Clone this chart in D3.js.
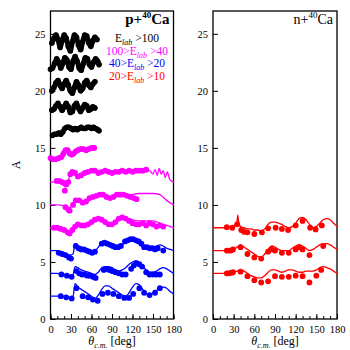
<!DOCTYPE html>
<html>
<head>
<meta charset="utf-8">
<script src="https://cdn.jsdelivr.net/npm/d3@7"></script>
<style>
  body { margin: 0; background: #fff; }
  text { font-family: "Liberation Serif", "DejaVu Serif", serif; }
</style>
</head>
<body>
<div id="chart"></div>
<script>
// axis ticks
var xTicks = [0, 30, 60, 90, 120, 150, 180];
var yTicks = [0, 5, 10, 15, 20, 25];

// black bands, E_lab > 100 (p+40Ca)
var black16 = [[3,16.1],[6,16.2],[9,16.2],[12,16.3],[15,16.2],[18,16.4],[21,16.7],[24,16.8],[27,16.8],[30,16.7],[33,16.6],[36,16.7],[39,16.6],[42,16.7],[45,16.8],[48,16.7],[51,16.7],[54,16.8],[57,16.8],[60,16.7],[63,16.8],[66,16.7],[69,16.6],[71,16.5]];
var black18 = [[2,18.3],[5,18.4],[8,18.7],[11,18.9],[14,18.6],[17,18.3],[20,18.6],[23,18.9],[26,18.6],[29,18.1],[32,18.2],[35,18.7],[38,18.9],[41,18.5],[44,18.2],[47,18.5],[50,18.8],[53,18.7],[56,18.3],[59,18.4],[62,18.6],[65,18.5]];
var black20 = [[2,20.0],[5,20.3],[8,20.7],[11,20.9],[14,20.5],[17,20.2],[20,20.6],[23,20.9],[26,20.5],[29,20.0],[32,19.8],[35,20.3],[38,20.8],[41,20.5],[44,20.0],[47,20.2],[50,20.7],[53,20.9],[56,20.5],[59,20.3],[62,20.6],[65,20.8]];
var black22 = [[0,21.9],[3,22.0],[6,22.4],[9,22.8],[12,22.5],[15,22.0],[18,22.4],[21,22.9],[24,22.7],[27,22.1],[30,21.9],[33,22.6],[36,23.0],[39,22.6],[42,22.0],[45,21.8],[48,22.4],[51,22.9],[54,22.8],[57,22.3],[60,22.1],[63,22.5],[66,22.8],[69,22.6],[71,22.3]];
var black24 = [[2,24.2],[5,24.6],[8,24.9],[11,24.5],[14,23.8],[17,24.4],[20,24.9],[23,24.6],[26,23.9],[29,23.5],[32,24.3],[35,24.9],[38,24.7],[41,24.0],[44,23.6],[47,24.3],[50,24.9],[53,24.8],[56,24.2],[59,23.9],[62,24.4],[65,24.7],[68,24.5]];

// magenta, 100 > E_lab > 40
var mag14 = [[0,14.1],[4,14.0],[8,14.0],[12,14.1],[16,14.2],[19,14.5],[22,14.8],[25,14.8],[28,14.5],[31,14.4],[34,14.5],[37,14.7],[40,14.8],[44,14.9],[48,14.9],[52,14.8],[56,14.9],[60,15.0],[64,15.0]];
var mag12Curve = [[0,12.0],[10,12.0],[20,11.9],[25,12.0],[30,12.8],[35,12.9],[40,12.5],[45,12.6],[50,12.8],[55,12.7],[60,13.0],[65,13.0],[70,12.8],[75,13.0],[80,13.1],[85,13.0],[90,12.8],[95,12.9],[100,13.0],[105,13.0],[110,12.9],[115,13.1],[120,13.0],[125,12.9],[130,13.1],[135,13.1],[140,12.9],[145,13.0],[150,12.7],[153,13.1],[156,12.6],[159,13.2],[162,12.7],[165,13.0],[168,12.4],[171,12.9],[174,12.3],[177,12.1],[180,12.0]];
var mag12Pts = [[9,12.1],[13,12.1],[17,12.0],[20,11.9],[23,11.8],[26,12.0],[29,12.7],[32,12.9],[36,12.8],[40,12.5],[45,12.6],[50,12.8],[55,12.9],[60,13.0],[65,13.0],[70,12.8],[75,12.9],[80,13.0],[85,12.9],[90,12.8],[95,12.9],[100,12.9],[105,13.0],[110,12.9],[115,13.0],[120,12.9],[125,13.0],[130,13.0],[135,13.0],[140,13.1]];
var mag10Curve = [[0,10.0],[10,10.0],[20,9.9],[25,9.6],[30,9.8],[35,10.4],[40,10.5],[45,10.3],[50,10.4],[55,10.3],[60,10.6],[65,10.7],[70,10.8],[75,10.9],[80,10.8],[85,10.6],[90,10.6],[95,10.8],[100,10.9],[105,10.9],[110,10.9],[115,10.8],[120,10.9],[130,11.0],[140,11.0],[150,11.0],[160,10.9],[170,10.4],[180,10.0]];
var mag10Pts = [[21,11.25],[22,9.8],[26,9.6],[28,9.5],[33,10.0],[37,10.4],[42,10.4],[47,10.2],[52,10.3],[57,10.6],[62,10.7],[67,10.8],[72,10.9],[77,10.9],[82,10.7],[87,10.6],[92,10.7],[97,10.9],[102,10.9],[107,10.9],[112,10.8],[117,10.7],[122,10.6],[126,10.5]];
var mag8Curve = [[0,8.0],[10,8.0],[20,7.8],[25,7.6],[30,7.7],[35,8.2],[40,8.4],[45,8.3],[50,8.2],[55,8.3],[60,8.5],[65,8.7],[70,8.9],[75,8.8],[80,8.6],[85,8.4],[90,8.4],[95,8.6],[100,8.9],[105,9.0],[110,8.9],[115,8.8],[120,8.7],[130,8.6],[140,8.6],[150,8.6],[160,8.4],[170,8.2],[180,8.0]];
var mag8Pts = [[5,8.0],[10,8.0],[15,7.9],[20,7.8],[25,7.6],[28,7.5],[32,7.8],[36,8.1],[40,8.3],[45,8.2],[50,8.2],[55,8.3],[60,8.5],[65,8.7],[70,8.8],[75,8.7],[80,8.5],[85,8.3],[90,8.3],[95,8.5],[100,8.8],[105,8.9],[110,8.8],[115,8.6],[120,8.4],[125,8.3],[130,8.3],[135,8.4],[140,8.2],[145,8.4],[150,8.3],[155,8.1],[160,8.2],[165,8.1]];

// blue, 40 > E_lab > 20
var blue6Curve = [[0,6.0],[10,6.0],[20,5.8],[28,5.6],[33,5.7],[36,6.6],[40,6.4],[45,6.3],[50,6.2],[55,6.1],[60,6.0],[65,6.0],[70,6.3],[75,6.7],[80,6.8],[85,6.7],[90,6.5],[95,6.3],[100,6.2],[105,6.5],[110,6.8],[115,7.0],[120,7.1],[125,7.0],[130,6.8],[135,6.5],[140,6.4],[145,6.3],[150,6.3],[155,6.4],[160,6.5],[165,6.4],[170,6.2],[175,6.1],[180,6.0]];
var blue6Pts = [[12,5.8],[17,5.7],[22,5.6],[27,5.4],[30,5.3],[37,6.4],[41,6.2],[45,6.1],[49,6.1],[53,6.0],[57,5.9],[61,5.8],[65,5.9],[75,6.6],[79,6.7],[83,6.6],[87,6.5],[91,6.4],[95,6.3],[99,6.3],[103,6.4],[109,6.8],[113,6.9],[117,7.0],[121,7.0],[125,6.9],[129,6.8],[133,6.6],[137,6.3],[141,6.3],[145,6.2],[149,6.2],[153,6.1],[157,6.2],[165,6.0]];
var blue4Curve = [[0,4.0],[10,4.0],[20,3.9],[28,3.8],[33,3.9],[36,4.6],[40,4.5],[45,4.3],[50,4.2],[55,4.1],[60,4.0],[65,3.9],[70,4.1],[75,4.5],[80,4.6],[85,4.6],[90,4.5],[95,4.3],[100,4.2],[105,4.3],[110,4.5],[115,4.8],[120,5.0],[125,5.1],[130,4.9],[135,4.6],[140,4.3],[145,4.1],[150,4.1],[155,4.2],[160,4.4],[165,4.5],[170,4.4],[175,4.2],[180,4.0]];
var blue4Pts = [[16,3.9],[24,3.8],[31,3.7],[38,4.2],[42,4.0],[46,3.9],[50,3.9],[54,3.8],[58,3.8],[62,3.7],[66,3.6],[78,4.3],[82,4.4],[86,4.3],[90,4.2],[95,4.1],[100,4.0],[105,3.9],[110,3.9],[118,4.4],[122,4.7],[126,4.9],[130,4.8],[134,4.6],[140,4.1],[145,3.9],[150,3.9],[155,3.9],[160,3.9]];
var blue2Curve = [[0,2.0],[10,2.0],[20,2.0],[28,1.9],[33,2.0],[36,3.1],[40,2.8],[45,2.6],[50,2.4],[55,2.2],[60,2.0],[65,1.8],[70,2.1],[75,2.6],[80,2.9],[85,2.9],[90,2.7],[95,2.5],[100,2.3],[105,2.1],[110,2.0],[115,2.3],[120,2.8],[125,3.1],[130,3.0],[135,2.6],[140,2.2],[145,2.1],[150,2.3],[155,2.5],[160,2.7],[165,2.8],[170,2.7],[175,2.4],[180,2.2]];
var blue2Pts = [[15,2.0],[23,1.9],[31,1.8],[38,2.7],[47,2.0],[55,1.9],[62,1.7],[69,1.6],[76,2.2],[84,2.3],[92,2.2],[100,2.0],[108,1.85],[115,1.85],[121,2.2],[130,2.7],[137,2.3],[145,2.1],[153,2.3],[160,2.7]];

// red, 20 > E_lab > 10 (n+40Ca)
var red8Curve = [[0,8.0],[10,8.0],[20,8.0],[28,8.1],[32,8.2],[35,8.6],[36,9.1],[37,8.6],[40,8.1],[45,8.0],[50,7.9],[55,7.9],[60,7.8],[65,7.8],[70,7.7],[75,7.9],[80,8.3],[85,8.5],[90,8.5],[95,8.4],[100,8.3],[105,8.1],[110,8.0],[115,8.1],[120,8.4],[125,8.8],[130,8.9],[135,8.7],[140,8.3],[145,8.0],[150,8.1],[155,8.4],[160,8.7],[165,8.8],[170,8.7],[175,8.4],[180,8.1]];
var red8Pts = [[20,8.05],[28,8.0],[35,8.3],[41,7.8],[45,7.65],[50,7.6],[60,7.45],[71,7.6],[80,7.95],[91,8.0],[100,7.9],[109,7.8],[120,8.2],[130,8.6],[141,8.0],[149,7.85],[158,8.2]];
var red6Curve = [[0,6.0],[10,6.0],[20,6.0],[30,6.1],[35,6.3],[40,6.5],[45,6.3],[50,6.1],[55,5.9],[60,5.7],[65,5.5],[70,5.4],[75,5.7],[80,6.1],[85,6.4],[90,6.3],[95,6.1],[100,6.0],[105,6.0],[110,6.0],[115,6.2],[120,6.4],[125,6.5],[130,6.4],[135,6.2],[140,6.0],[145,6.1],[150,6.3],[155,6.5],[160,6.6],[165,6.6],[170,6.5],[175,6.3],[180,6.1]];
var red6Pts = [[20,6.0],[23,6.0],[26,6.0],[29,6.1],[40,6.3],[50,5.7],[60,5.4],[70,5.3],[80,5.9],[85,6.1],[90,6.0],[100,5.8],[110,5.8],[120,6.1],[125,6.3],[130,6.1],[140,5.6],[160,6.4]];
var red4Curve = [[0,4.0],[10,4.0],[20,4.0],[30,4.1],[35,4.2],[40,4.3],[45,4.2],[50,4.0],[55,3.8],[60,3.7],[65,3.6],[70,3.6],[75,3.8],[80,4.1],[85,4.3],[90,4.3],[95,4.2],[100,4.1],[105,4.2],[110,4.3],[115,4.3],[120,4.2],[125,4.1],[130,4.1],[135,4.2],[140,4.2],[145,4.2],[150,4.3],[155,4.5],[160,4.6],[165,4.5],[170,4.4],[175,4.2],[180,4.0]];
var red4Pts = [[20,4.0],[23,4.0],[26,4.05],[29,4.1],[40,4.15],[50,3.75],[60,3.4],[70,3.2],[80,3.3],[90,3.75],[100,3.7],[110,3.7],[120,3.8],[130,3.75],[140,3.2],[150,3.8],[157,4.3]];

var width = 350, height = 350;
var plotTop = 11, plotBottom = 319;

var svg = d3.select("#chart")
  .append("svg")
  .attr("width", width)
  .attr("height", height);

var y = d3.scaleLinear().domain([0, 27]).range([plotBottom, plotTop]);

// draws one panel with its frame, axes and labels
function panel(left, right, title, bold) {
  var x = d3.scaleLinear().domain([0, 180]).range([left, right]);
  var g = svg.append("g");

  // minor and major ticks at the bottom, pointing inwards
  g.append("g")
    .attr("transform", "translate(0," + plotBottom + ")")
    .call(d3.axisBottom(x).tickValues(d3.range(0, 181, 10)).tickSize(-3).tickFormat(""))
    .call(function (a) { a.select(".domain").remove() })
  g.append("g")
    .attr("transform", "translate(0," + plotBottom + ")")
    .call(d3.axisBottom(x).tickValues(xTicks).tickSize(-5).tickPadding(7).tickFormat(d3.format("d")))
    .call(function (a) {
      a.select(".domain").remove()
      a.selectAll("text").style("font-size", "10.5px").style("font-family", "Liberation Serif, serif")
    })

  g.append("g")
    .attr("transform", "translate(" + left + ",0)")
    .call(d3.axisLeft(y).tickValues(yTicks).tickSize(-5).tickPadding(5))
    .call(function (a) {
      a.select(".domain").remove()
      a.selectAll("text").style("font-size", "10.5px").style("font-family", "Liberation Serif, serif")
    })

  g.append("rect")
    .attr("x", left)
    .attr("y", plotTop)
    .attr("width", right - left)
    .attr("height", plotBottom - plotTop)
    .attr("fill", "none")
    .attr("stroke", "black")
    .attr("stroke-width", 1.3)

  // title, top right in the frame
  var t = g.append("text")
    .attr("x", right - 4)
    .attr("y", 24)
    .attr("text-anchor", "end")
    .style("font-size", bold ? "15px" : "14px")
    .style("font-weight", bold ? "bold" : "normal")
  t.append("tspan").text(title + "+")
  t.append("tspan").attr("dy", -6).style("font-size", "9px").text("40")
  t.append("tspan").attr("dy", 6).text("Ca")

  // x label
  var xl = g.append("text")
    .attr("x", (left + right) / 2)
    .attr("y", 345)
    .attr("text-anchor", "middle")
    .style("font-size", "12px")
  xl.append("tspan").style("font-style", "italic").text("θ")
  xl.append("tspan").attr("dy", 3).style("font-size", "8px").style("font-style", "italic").text("c.m.")
  xl.append("tspan").attr("dy", -3).text(" [deg]")

  return x;
}

var xL = panel(50.5, 173.5, "p", true);
var xR = panel(213, 337, "n", false);

svg.append("text")
  .attr("transform", "translate(20,165) rotate(-90)")
  .attr("text-anchor", "middle")
  .style("font-size", "12px")
  .text("A")

// draw a curve or band
function curve(x, data, color, w) {
  svg.append("path")
    .datum(data)
    .attr("fill", "none")
    .attr("stroke", color)
    .attr("stroke-width", w)
    .attr("stroke-linejoin", "round")
    .attr("stroke-linecap", "round")
    .attr("d", d3.line().curve(d3.curveMonotoneX).x(function (d) { return x(d[0]) }).y(function (d) { return y(d[1]) }))
}
function dots(x, data, color, r) {
  svg.append("g")
    .selectAll("circle")
    .data(data)
    .enter()
    .append("circle")
    .attr("cx", function (d) { return x(d[0]) })
    .attr("cy", function (d) { return y(d[1]) })
    .attr("r", r)
    .attr("fill", color)
}

var BLACK = "#000000", MAG = "#ff00ff", BLUE = "#0000ff", RED = "#ff0000";

[black16, black18, black20, black22, black24].forEach(function (b) {
  curve(xL, b, BLACK, 5)
  dots(xL, b, BLACK, 2.8)
})
curve(xL, mag14, MAG, 5)
dots(xL, mag14, MAG, 2.8)

curve(xL, mag12Curve, MAG, 1.3); dots(xL, mag12Pts, MAG, 2.9)
curve(xL, mag10Curve, MAG, 1.3); dots(xL, mag10Pts, MAG, 2.9)
curve(xL, mag8Curve, MAG, 1.3); dots(xL, mag8Pts, MAG, 2.9)
curve(xL, blue6Curve, BLUE, 1.3); dots(xL, blue6Pts, BLUE, 2.9)
curve(xL, blue4Curve, BLUE, 1.3); dots(xL, blue4Pts, BLUE, 2.9)
curve(xL, blue2Curve, BLUE, 1.3); dots(xL, blue2Pts, BLUE, 2.9)

curve(xR, red8Curve, RED, 1.3); dots(xR, red8Pts, RED, 2.9)
curve(xR, red6Curve, RED, 1.3); dots(xR, red6Pts, RED, 2.9)
curve(xR, red4Curve, RED, 1.3); dots(xR, red4Pts, RED, 2.9)

// legend text
var legend = [
  { pre: "", post: " >100", color: BLACK, y: 42 },
  { pre: "100>", post: " >40", color: MAG, y: 55 },
  { pre: "40>", post: " >20", color: BLUE, y: 67 },
  { pre: "20>", post: " >10", color: RED, y: 80 }
];
legend.forEach(function (l) {
  var t = svg.append("text")
    .attr("x", 137)
    .attr("y", l.y)
    .attr("text-anchor", "middle")
    .attr("fill", l.color)
    .style("font-size", "11.5px")
  t.append("tspan").text(l.pre + "E")
  t.append("tspan").attr("dy", 2.5).style("font-size", "8px").style("font-style", "italic").text("lab")
  t.append("tspan").attr("dy", -2.5).text(l.post)
})
</script>
</body>
</html>
